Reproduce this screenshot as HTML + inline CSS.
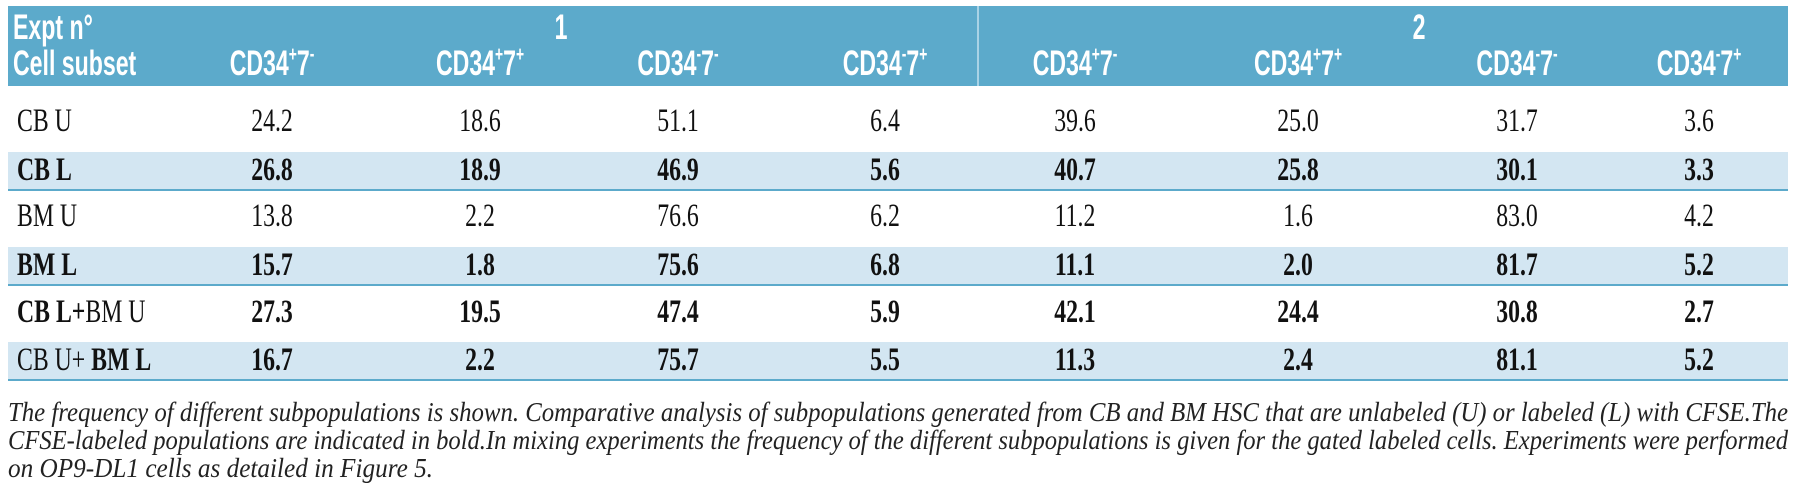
<!DOCTYPE html>
<html><head><meta charset="utf-8"><style>
body{margin:0;width:1800px;height:497px;background:#fff;position:relative;overflow:hidden;font-family:"Liberation Serif",serif;}
.hdr{position:absolute;left:8px;top:6px;width:1780px;height:80px;background:#5caacb;}
.div{position:absolute;left:977px;top:6px;width:2px;height:80px;background:#a9d3e6;}
.band{position:absolute;left:8px;width:1780px;height:37px;background:#d3e6f2;}
.line{position:absolute;left:8px;width:1780px;height:2px;background:#5caacb;}
.h{position:absolute;color:#fff;font-family:"Liberation Sans",sans-serif;font-weight:bold;font-size:35px;line-height:34px;white-space:nowrap;transform:translateX(-50%) scaleX(0.66);}
.h sup{font-size:21px;line-height:0;vertical-align:top;position:relative;top:8px}
.hl{position:absolute;color:#fff;font-family:"Liberation Sans",sans-serif;font-weight:bold;font-size:35px;line-height:34px;white-space:nowrap;transform-origin:0 0;transform:scaleX(0.66);}
.c{position:absolute;font-size:33px;line-height:33px;white-space:nowrap;color:#111;transform:translateX(-50%) scaleX(0.72);}
.l{position:absolute;left:17px;font-size:33px;line-height:33px;white-space:nowrap;color:#111;transform-origin:0 0;transform:scaleX(0.72);}
.b{font-weight:bold}
svg.cap{position:absolute;left:0;top:390px}
svg.cap text{font-family:"Liberation Serif",serif;font-style:italic;font-size:27px;fill:#222}
</style></head><body>
<div class="hdr"></div><div class="div"></div>
<div class="hl" style="left:13px;top:11px">Expt n°</div>
<div class="hl" style="left:13px;top:47px">Cell subset</div>
<div class="h" style="left:561px;top:11px">1</div>
<div class="h" style="left:1419px;top:11px">2</div>
<div class="h" style="left:272px;top:47px">CD34<sup>+</sup>7<sup>-</sup></div>
<div class="h" style="left:480px;top:47px">CD34<sup>+</sup>7<sup>+</sup></div>
<div class="h" style="left:678px;top:47px">CD34<sup>-</sup>7<sup>-</sup></div>
<div class="h" style="left:885px;top:47px">CD34<sup>-</sup>7<sup>+</sup></div>
<div class="h" style="left:1075px;top:47px">CD34<sup>+</sup>7<sup>-</sup></div>
<div class="h" style="left:1298px;top:47px">CD34<sup>+</sup>7<sup>+</sup></div>
<div class="h" style="left:1517px;top:47px">CD34<sup>-</sup>7<sup>-</sup></div>
<div class="h" style="left:1699px;top:47px">CD34<sup>-</sup>7<sup>+</sup></div>

<div class="band" style="top:152px"></div><div class="line" style="top:189px"></div>
<div class="band" style="top:247px"></div><div class="line" style="top:284px"></div>
<div class="band" style="top:342px"></div><div class="line" style="top:379px"></div>

<div class="l" style="top:105px">CB U</div>
<div class="c" style="left:272px;top:105px">24.2</div><div class="c" style="left:480px;top:105px">18.6</div><div class="c" style="left:678px;top:105px">51.1</div><div class="c" style="left:885px;top:105px">6.4</div><div class="c" style="left:1075px;top:105px">39.6</div><div class="c" style="left:1298px;top:105px">25.0</div><div class="c" style="left:1517px;top:105px">31.7</div><div class="c" style="left:1699px;top:105px">3.6</div>

<div class="l b" style="top:154px">CB L</div>
<div class="c b" style="left:272px;top:154px">26.8</div><div class="c b" style="left:480px;top:154px">18.9</div><div class="c b" style="left:678px;top:154px">46.9</div><div class="c b" style="left:885px;top:154px">5.6</div><div class="c b" style="left:1075px;top:154px">40.7</div><div class="c b" style="left:1298px;top:154px">25.8</div><div class="c b" style="left:1517px;top:154px">30.1</div><div class="c b" style="left:1699px;top:154px">3.3</div>

<div class="l" style="top:200px">BM U</div>
<div class="c" style="left:272px;top:200px">13.8</div><div class="c" style="left:480px;top:200px">2.2</div><div class="c" style="left:678px;top:200px">76.6</div><div class="c" style="left:885px;top:200px">6.2</div><div class="c" style="left:1075px;top:200px">11.2</div><div class="c" style="left:1298px;top:200px">1.6</div><div class="c" style="left:1517px;top:200px">83.0</div><div class="c" style="left:1699px;top:200px">4.2</div>

<div class="l b" style="top:249px">BM L</div>
<div class="c b" style="left:272px;top:249px">15.7</div><div class="c b" style="left:480px;top:249px">1.8</div><div class="c b" style="left:678px;top:249px">75.6</div><div class="c b" style="left:885px;top:249px">6.8</div><div class="c b" style="left:1075px;top:249px">11.1</div><div class="c b" style="left:1298px;top:249px">2.0</div><div class="c b" style="left:1517px;top:249px">81.7</div><div class="c b" style="left:1699px;top:249px">5.2</div>

<div class="l b" style="top:296px">CB L+<span style="font-weight:normal">BM U</span></div>
<div class="c b" style="left:272px;top:296px">27.3</div><div class="c b" style="left:480px;top:296px">19.5</div><div class="c b" style="left:678px;top:296px">47.4</div><div class="c b" style="left:885px;top:296px">5.9</div><div class="c b" style="left:1075px;top:296px">42.1</div><div class="c b" style="left:1298px;top:296px">24.4</div><div class="c b" style="left:1517px;top:296px">30.8</div><div class="c b" style="left:1699px;top:296px">2.7</div>

<div class="l" style="top:344px">CB U+ <b>BM L</b></div>
<div class="c b" style="left:272px;top:344px">16.7</div><div class="c b" style="left:480px;top:344px">2.2</div><div class="c b" style="left:678px;top:344px">75.7</div><div class="c b" style="left:885px;top:344px">5.5</div><div class="c b" style="left:1075px;top:344px">11.3</div><div class="c b" style="left:1298px;top:344px">2.4</div><div class="c b" style="left:1517px;top:344px">81.1</div><div class="c b" style="left:1699px;top:344px">5.2</div>

<svg class="cap" width="1800" height="100" viewBox="0 390 1800 100">
<text x="8" y="421" textLength="1780" lengthAdjust="spacingAndGlyphs">The frequency of different subpopulations is shown. Comparative analysis of subpopulations generated from CB and BM HSC that are unlabeled (U) or labeled (L) with CFSE.The</text>
<text x="8" y="449" textLength="1780" lengthAdjust="spacingAndGlyphs">CFSE-labeled populations are indicated in bold.In mixing experiments the frequency of the different subpopulations is given for the gated labeled cells. Experiments were performed</text>
<text x="8" y="477" textLength="425" lengthAdjust="spacingAndGlyphs">on OP9-DL1 cells as detailed in Figure 5.</text>
</svg>
</body></html>
